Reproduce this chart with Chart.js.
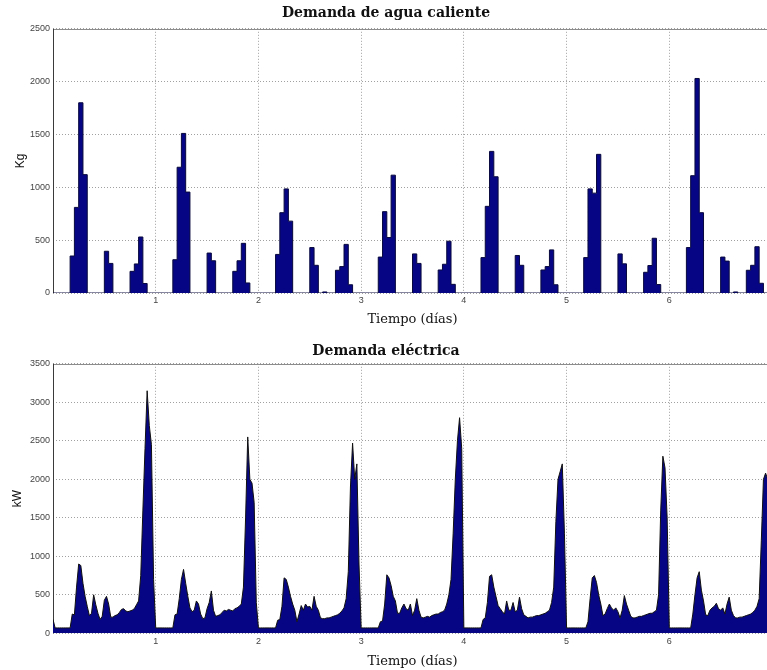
<!DOCTYPE html>
<html lang="es">
<head>
<meta charset="utf-8">
<title>Demanda de agua caliente y demanda eléctrica</title>
<script src="https://cdn.jsdelivr.net/npm/chart.js@4.4.1/dist/chart.umd.min.js"></script>
<style>
  html, body { margin: 0; padding: 0; background: #fff; overflow: hidden; width: 767px; height: 670px; }
  canvas { display: block; }
</style>
</head>
<body>
<canvas id="agua" width="836" height="330"></canvas>
<canvas id="elec" width="836" height="340"></canvas>
<script>
  'use strict';

  // Eje de tiempo en días y marcas de los ejes.
  const diasTicks = [1, 2, 3, 4, 5, 6];
  const ticksKg = [0, 500, 1000, 1500, 2000, 2500];
  const ticksKW = [0, 500, 1000, 1500, 2000, 2500, 3000, 3500];

  // Demanda de agua caliente, valores horarios (kg), una fila por día.
  const aguaKg = [
    0, 0, 0, 0, 350, 810, 1800, 1120, 0, 0, 0, 0, 395, 280, 0, 0, 0, 0, 205, 275, 530, 90, 0, 0,
    0, 0, 0, 0, 315, 1190, 1510, 955, 0, 0, 0, 0, 378, 305, 0, 0, 0, 0, 205, 305, 470, 95, 0, 0,
    0, 0, 0, 0, 365, 760, 985, 680, 0, 0, 0, 0, 430, 262, 0, 10, 0, 0, 215, 250, 460, 78, 0, 0,
    0, 0, 0, 0, 340, 770, 525, 1115, 0, 0, 0, 0, 370, 280, 0, 0, 0, 0, 218, 272, 490, 82, 0, 0,
    0, 0, 0, 0, 335, 820, 1340, 1100, 0, 0, 0, 0, 355, 262, 0, 0, 0, 0, 218, 250, 408, 78, 0, 0,
    0, 0, 0, 0, 335, 985, 945, 1312, 0, 0, 0, 0, 370, 276, 0, 0, 0, 0, 196, 260, 518, 80, 0, 0,
    0, 0, 0, 0, 430, 1110, 2030, 760, 0, 0, 0, 0, 340, 302, 0, 10, 0, 0, 215, 262, 438, 92, 0, 0,
  ];

  // Demanda eléctrica cada media hora (kW), una fila por día.
  const elecKW = [
    180, 70, 70, 70, 70, 70, 70, 70, 70, 250, 240, 600, 900, 880, 650, 480, 350, 230, 260, 500, 370, 260, 180, 220,
    430, 480, 380, 210, 210, 230, 240, 270, 310, 320, 290, 280, 290, 300, 320, 370, 420, 750, 1600, 2400, 3150, 2700, 2450, 700,
    70, 70, 70, 70, 70, 70, 70, 70, 70, 240, 250, 450, 700, 830, 650, 480, 330, 280, 300, 420, 380, 250, 190, 200,
    320, 400, 550, 300, 220, 230, 240, 270, 300, 290, 310, 300, 290, 320, 330, 350, 380, 600, 1500, 2550, 2000, 1950, 1700, 400,
    70, 70, 70, 70, 70, 70, 70, 70, 70, 170, 180, 350, 720, 700, 600, 480, 380, 300, 150, 250, 360, 300, 380, 340,
    350, 300, 480, 350, 300, 200, 190, 190, 200, 200, 210, 220, 230, 240, 260, 290, 330, 450, 800, 1900, 2470, 2000, 2200, 900,
    70, 70, 70, 70, 70, 70, 70, 70, 70, 150, 160, 380, 760, 720, 620, 480, 420, 260, 260, 330, 380, 320, 300, 380,
    230, 300, 450, 300, 210, 200, 210, 220, 210, 230, 240, 250, 250, 270, 280, 300, 380, 500, 700, 1300, 2000, 2500, 2800, 2400,
    70, 70, 70, 70, 70, 70, 70, 70, 70, 180, 200, 400, 740, 760, 600, 480, 360, 320, 280, 250, 420, 300, 300, 400,
    280, 300, 470, 320, 240, 220, 200, 210, 210, 220, 230, 230, 240, 250, 260, 280, 300, 400, 600, 1450, 2000, 2100, 2200, 1300,
    70, 70, 70, 70, 70, 70, 70, 70, 70, 70, 150, 450, 720, 750, 660, 500, 380, 230, 250, 320, 380, 330, 300, 330,
    280, 200, 300, 490, 380, 300, 220, 200, 200, 210, 220, 220, 230, 240, 250, 260, 260, 280, 300, 500, 1600, 2300, 2150, 1500,
    70, 70, 70, 70, 70, 70, 70, 70, 70, 70, 70, 250, 500, 720, 800, 560, 420, 240, 230, 300, 330, 350, 390, 320,
    300, 330, 250, 380, 470, 300, 230, 200, 200, 210, 210, 220, 230, 240, 250, 270, 300, 350, 450, 1200, 2000, 2080, 2000, 1800,
  ];

  const AZUL = 'rgb(6, 6, 132)';
  const GRIS_REJILLA = '#a0a0a0';
  const fuenteTicks = { family: "'Liberation Sans', Arial, sans-serif", size: 9 };

  // Recuadro de los ejes: línea superior gris y eje izquierdo oscuro.
  const marco = {
    id: 'marco',
    beforeDatasetsDraw(chart) {
      const { ctx, chartArea: a } = chart;
      ctx.save();
      ctx.lineWidth = 1;
      ctx.strokeStyle = '#8c8c8c';
      ctx.beginPath();
      ctx.moveTo(a.left, Math.round(a.top) + 0.5);
      ctx.lineTo(a.right, Math.round(a.top) + 0.5);
      ctx.stroke();
      ctx.strokeStyle = '#3a3a3a';
      ctx.beginPath();
      ctx.moveTo(Math.round(a.left) + 0.5, a.top);
      ctx.lineTo(Math.round(a.left) + 0.5, a.bottom);
      ctx.stroke();
      ctx.restore();
    },
  };

  function opciones(cfg) {
    return {
      responsive: false,
      animation: false,
      layout: { padding: { left: 0, right: 64, top: 0, bottom: 0 } },
      plugins: {
        legend: { display: false },
        tooltip: { enabled: false },
        title: {
          display: true,
          text: cfg.titulo,
          color: '#111',
          font: { family: "'DejaVu Serif', serif", size: 14, weight: 'bold' },
          padding: cfg.tituloPad,
        },
      },
      scales: {
        x: {
          type: 'linear',
          min: 0,
          max: 7,
          afterBuildTicks: (s) => { s.ticks = diasTicks.map((v) => ({ value: v })); },
          afterFit: (s) => { s.height = cfg.altoX; },
          ticks: {
            color: '#444',
            font: fuenteTicks,
            padding: cfg.padTickX,
            maxRotation: 0,
            callback: (v) => String(v),
          },
          grid: { color: GRIS_REJILLA, drawTicks: false, lineWidth: 1 },
          border: { display: false, dash: [1, 2] },
          title: {
            display: true,
            text: 'Tiempo (días)',
            color: '#111',
            font: { family: "'DejaVu Serif', serif", size: 13 },
            padding: { top: 0, bottom: cfg.padTituloX },
          },
        },
        y: {
          min: 0,
          max: cfg.yMax,
          afterBuildTicks: (s) => { s.ticks = cfg.yTicks.map((v) => ({ value: v })); },
          afterFit: (s) => { s.width = 53; },
          ticks: {
            color: '#444',
            font: fuenteTicks,
            padding: 3,
            callback: (v) => String(v),
          },
          grid: { color: GRIS_REJILLA, drawTicks: false, lineWidth: 1 },
          border: { display: false, dash: [1, 2] },
          title: {
            display: true,
            text: cfg.tituloY,
            color: '#111',
            font: { family: "'Liberation Sans', Arial, sans-serif", size: 12 },
            padding: { top: cfg.padTituloY, bottom: 0 },
          },
        },
      },
    };
  }

  // Agua caliente: escalones horarios (el valor se mantiene hasta la hora siguiente).
  const puntosAgua = aguaKg.map((v, i) => ({ x: i / 24, y: v }));
  puntosAgua.push({ x: aguaKg.length / 24, y: 0 });

  new Chart(document.getElementById('agua'), {
    type: 'line',
    data: {
      datasets: [{
        data: puntosAgua,
        stepped: 'before',
        fill: 'origin',
        borderColor: '#08083e',
        borderWidth: 1,
        backgroundColor: AZUL,
        pointRadius: 0,
      }],
    },
    options: opciones({
      titulo: 'Demanda de agua caliente',
      tituloPad: { top: 5, bottom: 7 },
      yMax: 2500,
      yTicks: ticksKg,
      tituloY: 'Kg',
      padTituloY: 13,
      altoX: 37,
      padTickX: 2,
      padTituloX: 3,
    }),
    plugins: [marco],
  });

  // Demanda eléctrica: área con valores cada media hora.
  const puntosElec = elecKW.map((v, i) => ({ x: i / 48, y: v }));

  new Chart(document.getElementById('elec'), {
    type: 'line',
    data: {
      datasets: [{
        data: puntosElec,
        fill: 'origin',
        borderColor: '#111111',
        borderWidth: 1,
        backgroundColor: AZUL,
        pointRadius: 0,
        tension: 0,
      }],
    },
    options: opciones({
      titulo: 'Demanda eléctrica',
      tituloPad: { top: 12.5, bottom: 4.5 },
      yMax: 3500,
      yTicks: ticksKW,
      tituloY: 'kW',
      padTituloY: 10,
      altoX: 36.7,
      padTickX: 3,
      padTituloX: 1,
    }),
    plugins: [marco],
  });
</script>
</body>
</html>
